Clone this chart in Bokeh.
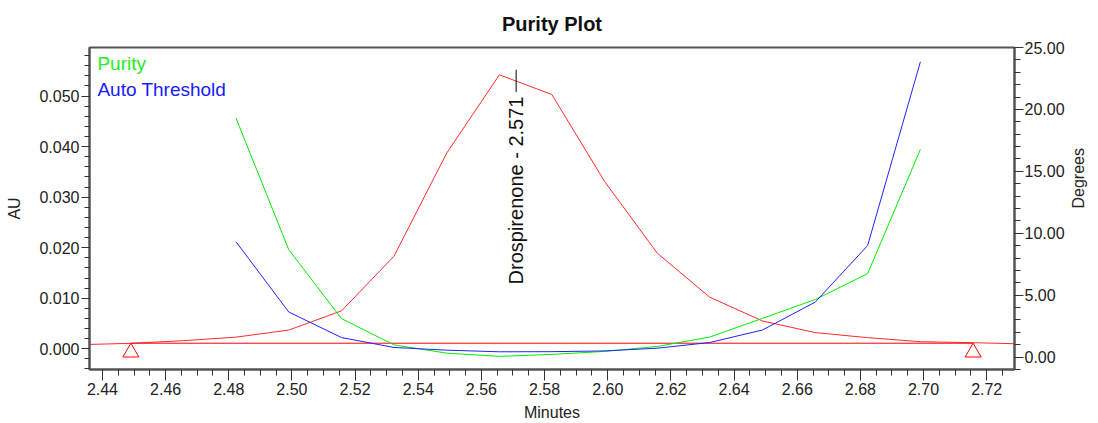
import math
from bokeh.plotting import figure
from bokeh.models import (Range1d, LinearAxis, SingleIntervalTicker,
                          NumeralTickFormatter, Label)
from bokeh.embed import file_html
from bokeh.resources import INLINE

# ---------------- data ----------------
rt_au = [2.4323, 2.4490, 2.4657, 2.4823, 2.4990, 2.5157, 2.5323, 2.5490,
         2.5657, 2.5823, 2.5990, 2.6157, 2.6323, 2.6490, 2.6657, 2.6823,
         2.6990, 2.7157, 2.7323]
au = [0.0008, 0.00108, 0.0016, 0.0023, 0.0037, 0.0075, 0.0183, 0.0387,
      0.0542, 0.0503, 0.0331, 0.0189, 0.0102, 0.0055, 0.0032, 0.0022,
      0.0014, 0.0012, 0.00095]

rt_deg = [2.4823, 2.4990, 2.5157, 2.5323, 2.5490, 2.5657, 2.5823, 2.5990,
          2.6157, 2.6323, 2.6490, 2.6657, 2.6823, 2.6990]
purity = [19.29, 8.67, 3.11, 0.99, 0.32, 0.06, 0.22, 0.46, 0.86, 1.62,
          3.13, 4.65, 6.74, 16.77]
threshold = [9.31, 3.64, 1.58, 0.78, 0.56, 0.43, 0.44, 0.50, 0.72, 1.18,
             2.19, 4.44, 9.01, 23.84]

baseline_rt = [2.4490, 2.7157]
baseline_au = [0.0011, 0.0011]

peak_name = "Drospirenone"
peak_rt = 2.571
peak_mark = [0.0508, 0.0552]     # tick mark span (AU)
peak_label_top = 0.0499          # where the rotated label ends (AU)

x_lo, x_hi = 2.4359, 2.7288
au_lo, au_hi = -0.0041, 0.0596
deg_lo, deg_hi = -1.0, 25.0

FONT = "Liberation Sans"
TXT = "#222222"

W, H = 1098, 423
ML, MR, MT, MB = 89, 79, 47, 52
frame_w = W - ML - MR
frame_h = H - MT - MB

p = figure(width=W, height=H, x_range=Range1d(x_lo, x_hi),
           y_range=Range1d(au_lo, au_hi), output_backend="svg",
           toolbar_location=None, min_border_left=ML, min_border_right=MR,
           min_border_top=MT, min_border_bottom=MB,
           x_axis_label="Minutes", y_axis_label="AU")

p.title.text = "Purity Plot"
p.title.align = "center"
p.title.vertical_align = "top"
p.title.text_font = FONT
p.title.text_font_size = "20px"
p.title.text_font_style = "bold"
p.title.text_color = "#111111"
p.title.standoff = 21

p.grid.visible = False
p.outline_line_color = "#555555"
p.outline_line_width = 2
p.background_fill_color = "white"
p.border_fill_color = "white"

p.extra_y_ranges = {"deg": Range1d(deg_lo, deg_hi)}
raxis = LinearAxis(y_range_name="deg", axis_label="Degrees")
p.add_layout(raxis, "right")

xa = p.xaxis[0]
xa.ticker = SingleIntervalTicker(interval=0.02, num_minor_ticks=4)
xa.formatter = NumeralTickFormatter(format="0.00")
xa.major_tick_out = 11
xa.minor_tick_out = 6
xa.major_label_standoff = 2
xa.axis_label_standoff = 6

ya = p.yaxis[0]
ya.ticker = SingleIntervalTicker(interval=0.01, num_minor_ticks=5)
ya.formatter = NumeralTickFormatter(format="0.000")
ya.major_tick_out = 8
ya.minor_tick_out = 5
ya.major_label_standoff = 2
ya.axis_label_standoff = 13

raxis.ticker = SingleIntervalTicker(interval=5, num_minor_ticks=5)
raxis.formatter = NumeralTickFormatter(format="0.00")
raxis.major_tick_out = 9
raxis.minor_tick_out = 6
raxis.major_label_standoff = 1
raxis.axis_label_standoff = 11
raxis.axis_label_orientation = math.pi / 2

for ax in (xa, ya, raxis):
    ax.major_tick_in = 0
    ax.minor_tick_in = 0
    ax.axis_line_color = "#555555"
    ax.axis_line_width = 2
    ax.major_tick_line_color = "#333333"
    ax.minor_tick_line_color = "#333333"
    ax.major_label_text_font = FONT
    ax.major_label_text_font_size = "16px"
    ax.major_label_text_color = TXT
    ax.axis_label_text_font = FONT
    ax.axis_label_text_font_size = "16px"
    ax.axis_label_text_font_style = "normal"
    ax.axis_label_text_color = TXT

# chromatogram + baseline
p.line(rt_au, au, line_color="#ff2a2a", line_width=1)
p.line(baseline_rt, baseline_au, line_color="#ff0000", line_width=1)

# baseline start/end markers (triangle apex on the baseline)
tri_size = 16
tri_off = (tri_size / 2) * math.sqrt(3) * 2 / 3 * (au_hi - au_lo) / frame_h
p.scatter(baseline_rt, [b - tri_off for b in baseline_au], marker="triangle",
          size=tri_size, fill_color=None, line_color="#ff0000", line_width=1)

# purity / threshold curves
p.line(rt_deg, purity, line_color="#00ee00", line_width=1, y_range_name="deg")
p.line(rt_deg, threshold, line_color="#2222ff", line_width=1,
       y_range_name="deg")

# peak annotation
p.segment(x0=[peak_rt], y0=[peak_mark[0]], x1=[peak_rt], y1=[peak_mark[1]],
          line_color="black", line_width=1)
p.add_layout(Label(x=peak_rt, y=peak_label_top,
                   text=f"{peak_name} - {peak_rt:.3f}", angle=math.pi / 2,
                   text_align="right", text_baseline="middle",
                   text_font=FONT, text_font_size="20px", text_color="#111111"))

# legend-like labels
p.add_layout(Label(x=2.4384, y=0.0586, text="Purity", text_baseline="top",
                   text_font=FONT, text_font_size="19px", text_color="#22ee22"))
p.add_layout(Label(x=2.4384, y=0.0534, text="Auto Threshold",
                   text_baseline="top", text_font=FONT,
                   text_font_size="19px", text_color="#1a1aff"))

open("out.html", "w").write(file_html(p, INLINE))
